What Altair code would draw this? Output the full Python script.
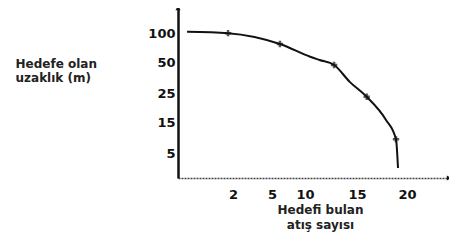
import altair as alt
import pandas as pd

# curve (shots hitting target vs distance in m)
line_x = [0.33, 1.82, 6.2, 10.5, 11.4, 12.8, 14.3, 15.97, 17.9, 18.9, 19.1]
line_y = [101.3, 99.7, 81, 59, 53.4, 47.6, 34, 23.7, 15.7, 9.4, 2]
mark_x = [1.82, 6.2, 12.8, 15.97, 18.9]
mark_y = [99.7, 81, 47.6, 23.7, 9.4]

x_ticks = [2, 5, 10, 15, 20]
y_ticks = [5, 15, 25, 50, 100]

line_df = pd.DataFrame({"x": line_x, "y": line_y, "o": list(range(len(line_x)))})
mark_df = pd.DataFrame({"x": mark_x, "y": mark_y})

W, H = 271, 170
xscale = alt.Scale(domain=[0, 2, 5, 10, 15, 20, 25], range=[0, 55, 94, 127, 179, 229, 271], zero=False, nice=False)
yscale = alt.Scale(domain=[0, 5, 15, 25, 50, 100, 125], range=[170, 145, 114, 85, 54, 25, 0], zero=False, nice=False)

font = "DejaVu Sans"

xaxis = alt.Axis(values=x_ticks, ticks=False, grid=False, labelFontSize=13, labelFontWeight="bold",
                 labelColor="#111", labelFont=font, labelPadding=10,
                 domainColor="#444", domainWidth=1.5, domainDash=[2, 1],
                 title=["Hedefi bulan", "atış sayısı"], titleFontSize=12, titleFont=font,
                 titleFontWeight="bold", titleColor="#222", titlePadding=3, titleLineHeight=15,
                 titleX=142)
yaxis = alt.Axis(values=y_ticks, ticks=False, grid=False, labelFontSize=13, labelFontWeight="bold",
                 labelColor="#111", labelFont=font, labelPadding=3,
                 domainColor="#111", domainWidth=2.5,
                 title=["Hedefe olan", "uzaklık (m)"], titleFontSize=12, titleFont=font,
                 titleFontWeight="bold", titleColor="#222", titleAngle=0, titleAlign="left",
                 titleBaseline="middle", titleX=-163, titleY=55, titleLineHeight=14)

line = alt.Chart(line_df).mark_line(color="#111", strokeWidth=2, interpolate="monotone").encode(
    x=alt.X("x:Q", scale=xscale, axis=xaxis),
    y=alt.Y("y:Q", scale=yscale, axis=yaxis),
    order="o:Q",
)
marks = alt.Chart(mark_df).mark_point(shape="M-1,0L1,0M0,-1L0,1", size=40, color="#111",
                                      strokeWidth=2.5, filled=False).encode(
    x=alt.X("x:Q", scale=xscale), y=alt.Y("y:Q", scale=yscale))

arrow_df = pd.DataFrame({"x": [0, 25], "y": [125, 0], "s": ["triangle-up", "triangle-right"]})
arrows = alt.Chart(arrow_df).mark_point(filled=True, size=25, color="#111", opacity=1).encode(
    x=alt.X("x:Q", scale=xscale), y=alt.Y("y:Q", scale=yscale),
    shape=alt.Shape("s:N", scale=None))

chart = alt.layer(line, marks, arrows).properties(
    width=W, height=H,
    autosize=alt.AutoSizeParams(type="none"),
    padding={"left": 170, "top": 0, "right": 0, "bottom": 60},
    background="white",
).configure_view(stroke=None)

chart.save("out.html", embed_options={"renderer": "svg", "actions": False})
